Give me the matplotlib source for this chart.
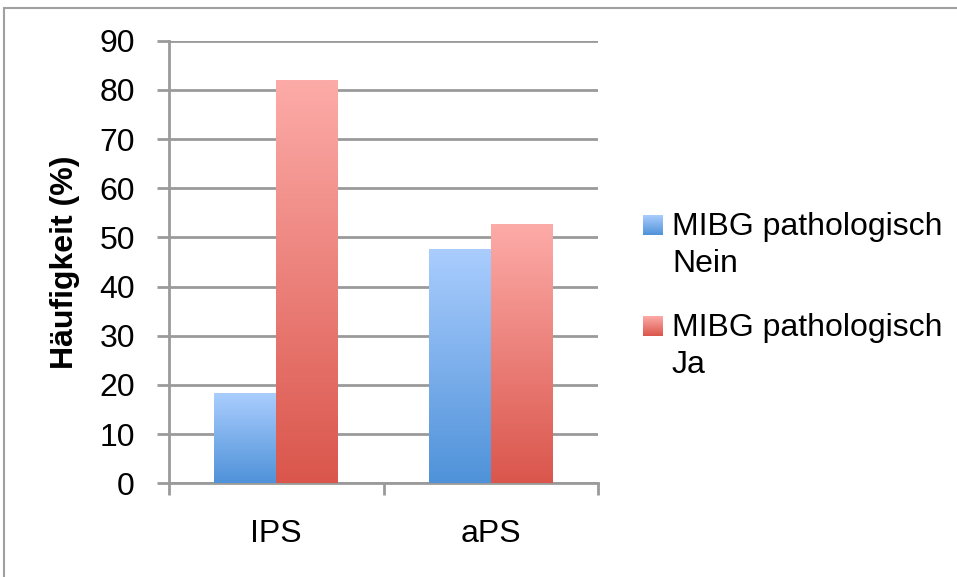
import numpy as np
import matplotlib
matplotlib.use("Agg")
import matplotlib.pyplot as plt
from matplotlib.patches import Rectangle
from matplotlib.colors import LinearSegmentedColormap

plt.rcParams['font.family'] = ['Liberation Sans', 'DejaVu Sans']

categories = ["IPS", "aPS"]
nein = [18.2, 47.4]
ja = [81.8, 52.6]
series_labels = ["MIBG pathologisch\nNein", "MIBG pathologisch\nJa"]
yticks = [0, 10, 20, 30, 40, 50, 60, 70, 80, 90]

blue_cmap = LinearSegmentedColormap.from_list("b", ["#4f92d9", "#aacdfe"])
red_cmap = LinearSegmentedColormap.from_list("r", ["#da564c", "#fdaba8"])
grid_col = "#9a9a9a"

fig = plt.figure(figsize=(9.57, 5.77), dpi=100)
ax = fig.add_axes([0.1766, 0.1624, 0.4483, 0.7669])

grad = np.linspace(0, 1, 256).reshape(-1, 1)
x = np.arange(len(categories))
w = 0.289


def gradient_bars(xpos, vals, cmap):
    bars = ax.bar(xpos, vals, w, facecolor="none", edgecolor="none", zorder=3)
    for b in bars:
        x0, y0 = b.get_x(), b.get_y()
        ax.imshow(grad, cmap=cmap, origin="lower", aspect="auto",
                  extent=(x0, x0 + b.get_width(), y0, y0 + b.get_height()),
                  zorder=3)
    return bars


gradient_bars(x - w / 2, nein, blue_cmap)
gradient_bars(x + w / 2, ja, red_cmap)

ax.set_xlim(-0.5, 1.5)
ax.set_ylim(0, 90)
ax.set_yticks(yticks)
ax.yaxis.grid(True, color=grid_col, linewidth=2)
ax.set_axisbelow(True)
for s in ["top", "right"]:
    ax.spines[s].set_visible(False)
for s in ["left", "bottom"]:
    ax.spines[s].set_color(grid_col)
    ax.spines[s].set_linewidth(2)

ax.set_xticks(x)
ax.set_xticklabels(categories)
ax.set_xticks([-0.5, 0.5, 1.5], minor=True)
ax.tick_params(axis="x", which="major", length=0, pad=26, labelsize=23)
ax.tick_params(axis="x", which="minor", length=8.5, width=2, color=grid_col)
ax.tick_params(axis="y", length=8.5, width=2, color=grid_col, pad=16, labelsize=23)
ax.set_ylabel("Häufigkeit (%)", fontsize=23, fontweight="bold", labelpad=14)

# legend
leg_cmaps = [blue_cmap, red_cmap]
leg_tops = [215, 316]
for lab, cm, top in zip(series_labels, leg_cmaps, leg_tops):
    lax = fig.add_axes([643 / 957, 1 - (top + 20) / 577, 20 / 957, 20 / 577])
    lax.imshow(grad, cmap=cm, origin="lower", aspect="auto")
    lax.axis("off")
    fig.text(672 / 957, 1 - (top - 3) / 577, lab, fontsize=23, va="top",
             ha="left", linespacing=1.3)

# outer frame
fig.patches.append(Rectangle((4 / 957, -0.1), 1.2, 1 - 8 / 577 + 0.1,
                             transform=fig.transFigure, fill=False,
                             edgecolor="#a0a0a0", linewidth=1.5))

fig.savefig("out.png", dpi=100)
